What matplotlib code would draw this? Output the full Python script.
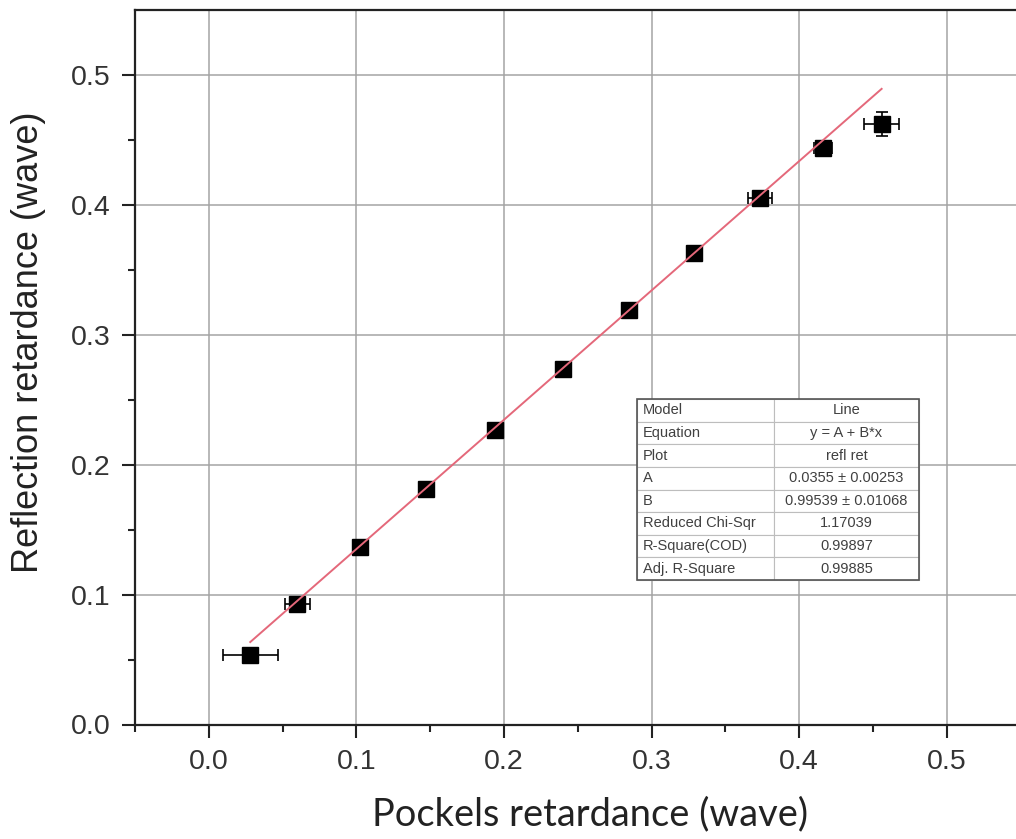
import numpy as np
import matplotlib
matplotlib.use("Agg")
import matplotlib.pyplot as plt
from matplotlib.patches import Rectangle

# measured points (wave)
pockels = [0.0281, 0.0598, 0.1022, 0.1469, 0.1937, 0.2398, 0.2845, 0.3286, 0.3733, 0.4163, 0.4559]
refl = [0.0532, 0.0925, 0.1369, 0.1816, 0.2265, 0.2735, 0.3190, 0.3629, 0.4052, 0.4435, 0.4622]
pockels_err = [0.0186, 0.0085, 0.004, 0.003, 0.003, 0.003, 0.003, 0.003, 0.008, 0.006, 0.012]
refl_err = [0.003, 0.003, 0.003, 0.003, 0.003, 0.003, 0.003, 0.003, 0.003, 0.004, 0.0094]

# linear fit results (from the Origin table)
fit_A = 0.0355
fit_B = 0.99539
table_names = ["Model", "Equation", "Plot", "A", "B", "Reduced Chi-Sqr", "R-Square(COD)", "Adj. R-Square"]
table_values = ["Line", "y = A + B*x", "refl ret", "0.0355 \u00b1 0.00253", "0.99539 \u00b1 0.01068",
                "1.17039", "0.99897", "0.99885"]

plt.rcParams['font.family'] = ['Liberation Sans', 'DejaVu Sans']

fig = plt.figure(figsize=(10.16, 8.39), dpi=100)
ax = fig.add_axes([135/1016, 1 - 724.5/839, 885.5/1016, 714.5/839])

# data with error bars
ax.errorbar(pockels, refl, xerr=pockels_err, yerr=refl_err, fmt='s', color='black',
            markersize=11, ecolor='black', elinewidth=1.2, capsize=4, capthick=1.2, zorder=3)

# fitted line
xfit = np.array([pockels[0], pockels[-1]])
ax.plot(xfit, fit_A + fit_B*xfit, color='#e4687a', lw=1.4, zorder=4)

ax.set_xlim(-0.05, 0.55)
ax.set_ylim(0.0, 0.55)
ax.set_xticks([0.0, 0.1, 0.2, 0.3, 0.4, 0.5])
ax.set_yticks([0.0, 0.1, 0.2, 0.3, 0.4, 0.5])
ax.set_xticks(np.arange(-0.05, 0.551, 0.1), minor=True)
ax.set_yticks([0.05, 0.15, 0.25, 0.35, 0.45], minor=True)
ax.set_xticklabels(['0.0', '0.1', '0.2', '0.3', '0.4', '0.5'])
ax.set_yticklabels(['0.0', '0.1', '0.2', '0.3', '0.4', '0.5'])
ax.grid(True, which='major', color='#a4a4a4', lw=1.1)
ax.set_axisbelow(True)

for s in ax.spines.values():
    s.set_linewidth(1.6)
    s.set_color('#222222')
ax.tick_params(which='major', direction='out', length=9.5, width=1.5, colors='#222222', labelsize=20.5, pad=8)
ax.tick_params(which='minor', direction='out', length=5, width=1.5, colors='#222222')
ax.tick_params(axis='both', labelcolor='#333333')

ax.set_ylabel('Reflection retardance (wave)', fontsize=26, color='#222222')
ax.yaxis.set_label_coords(-0.1, 0.535)
ax.set_xlabel('Pockels retardance (wave)', fontsize=27.4, family=['Lato', 'DejaVu Sans'],
              color='#222222')
ax.xaxis.set_label_coords(0.514, -0.1)

# fit parameter table
tbl = ax.table(cellText=[[n, v] for n, v in zip(table_names, table_values)],
               colWidths=[0.486, 0.514], bbox=[0.567, 0.2022, 0.3184, 0.2534], zorder=5)
tbl.auto_set_font_size(False)
for (r, c), cell in tbl.get_celld().items():
    cell.set_edgecolor('#bdbdbd')
    cell.set_linewidth(0.8)
    cell.set_facecolor('white')
    cell.get_text().set_fontsize(10.5)
    cell.get_text().set_color('#404040')
    if c == 0:
        cell.get_text().set_ha('left')
        cell.PAD = 0.045
    else:
        cell.get_text().set_ha('center')
ax.add_patch(Rectangle((0.567, 0.2022), 0.3184, 0.2534, transform=ax.transAxes,
                       fill=False, edgecolor='#555555', lw=1.2, zorder=6))

fig.savefig('out.png', dpi=100)
